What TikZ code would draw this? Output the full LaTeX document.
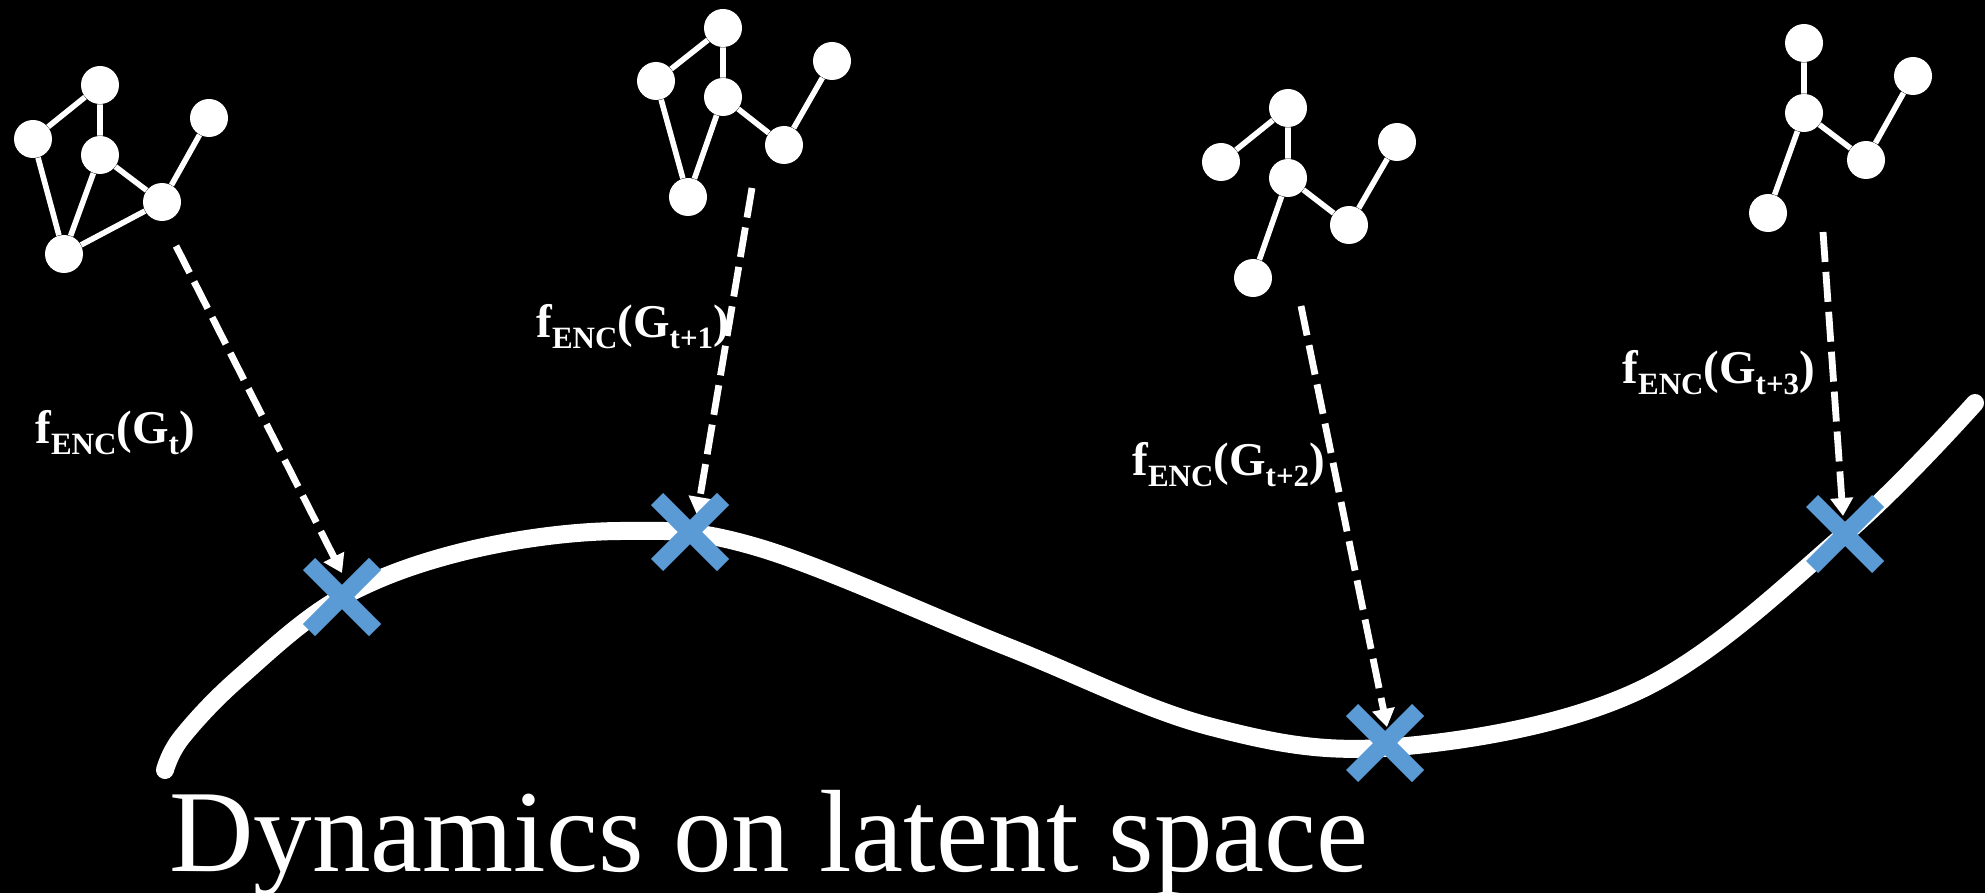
\documentclass[tikz,border=0pt]{standalone}
\usepackage{fontspec}
\setmainfont{Liberation Serif}
\usetikzlibrary{arrows.meta}
\definecolor{xblue}{HTML}{5B9BD5}
\tikzset{
 gnode/.style={circle, fill=white, minimum size=19pt, inner sep=0pt},
 gedge/.style={white, line width=2.8pt},
 enc/.style={white, line width=3.4pt, dash pattern=on 15pt off 5pt, -{Triangle[width=11pt,length=9pt]}},
 latent/.style={white, line width=9pt, line cap=round},
 crossbar/.style={xblue, line width=8.5pt},
 lbl/.style={text=white, inner sep=0pt, anchor=base west, font=\bfseries},
}
\newcommand{\enclabel}[1]{{\fontsize{23.5}{28}\selectfont f\raisebox{-5.5pt}{\fontsize{15.5}{18}\selectfont ENC}(G\raisebox{-5.5pt}{\fontsize{15.5}{18}\selectfont #1})}}
\newcommand{\xcross}[1]{\draw[crossbar] ([shift={(-33,-33)}]#1) -- ([shift={(33,33)}]#1); \draw[crossbar] ([shift={(-33,33)}]#1) -- ([shift={(33,-33)}]#1);}
\begin{document}
\begin{tikzpicture}[x=0.5pt, y=-0.5pt]
\fill[black] (0,0) rectangle (1985,893);
\useasboundingbox (0,0) rectangle (1985,893);

% latent curve
\draw[latent] plot[smooth, tension=0.6] coordinates {(165,770) (182,737) (240,677) (342,597) (470,550) (620,531) (760,548) (1008,647) (1212,727) (1396,747) (1640,690) (1845,534) (1975,403)};

% graph 1
\node[gnode] (g1a) at (100,85) {};
\node[gnode] (g1b) at (33,139) {};
\node[gnode] (g1c) at (100,155) {};
\node[gnode] (g1d) at (209,118) {};
\node[gnode] (g1e) at (162,202) {};
\node[gnode] (g1f) at (64,254) {};
\draw[gedge] (g1a) -- (g1b) (g1a) -- (g1c) (g1b) -- (g1f) (g1c) -- (g1f) (g1c) -- (g1e) (g1e) -- (g1f) (g1e) -- (g1d);

% graph 2
\node[gnode] (g2a) at (723,28) {};
\node[gnode] (g2b) at (656,81) {};
\node[gnode] (g2c) at (723,97) {};
\node[gnode] (g2d) at (832,61) {};
\node[gnode] (g2e) at (784,145) {};
\node[gnode] (g2f) at (688,197) {};
\draw[gedge] (g2a) -- (g2b) (g2a) -- (g2c) (g2b) -- (g2f) (g2c) -- (g2f) (g2c) -- (g2e) (g2e) -- (g2d);

% graph 3
\node[gnode] (g3a) at (1288,108) {};
\node[gnode] (g3b) at (1221,162) {};
\node[gnode] (g3c) at (1288,178) {};
\node[gnode] (g3d) at (1397,142) {};
\node[gnode] (g3e) at (1349,225) {};
\node[gnode] (g3f) at (1253,278) {};
\draw[gedge] (g3a) -- (g3b) (g3a) -- (g3c) (g3c) -- (g3f) (g3c) -- (g3e) (g3e) -- (g3d);

% graph 4
\node[gnode] (g4a) at (1804,43) {};
\node[gnode] (g4c) at (1804,113) {};
\node[gnode] (g4d) at (1913,76) {};
\node[gnode] (g4e) at (1866,160) {};
\node[gnode] (g4f) at (1768,213) {};
\draw[gedge] (g4a) -- (g4c) (g4c) -- (g4f) (g4c) -- (g4e) (g4e) -- (g4d);

% encoder arrows
\coordinate (s1) at (176,246); \coordinate (t1) at (342,573);
\coordinate (s2) at (752,188); \coordinate (t2) at (697,515);
\coordinate (s3) at (1301,306); \coordinate (t3) at (1387,727);
\coordinate (s4) at (1823,232); \coordinate (t4) at (1843,516);
\draw[enc] (s1) -- (t1);
\draw[enc] (s2) -- (t2);
\draw[enc] (s3) -- (t3);
\draw[enc] (s4) -- (t4);

% crosses
\coordinate (x1) at (342,597);
\coordinate (x2) at (690,532);
\coordinate (x3) at (1385,743);
\coordinate (x4) at (1845,534);
\xcross{x1}
\xcross{x2}
\xcross{x3}
\xcross{x4}

% labels
\node[lbl] (l1) at (35,443) {\enclabel{t}};
\node[lbl] (l2) at (536,337) {\enclabel{t+1}};
\node[lbl] (l3) at (1132,475) {\enclabel{t+2}};
\node[lbl] (l4) at (1622,383) {\enclabel{t+3}};

% title
\node[text=white, inner sep=0pt, anchor=base west, font=\fontsize{58.5}{70}\selectfont] (title) at (169,871) {Dynamics on latent space};
\end{tikzpicture}
\end{document}
